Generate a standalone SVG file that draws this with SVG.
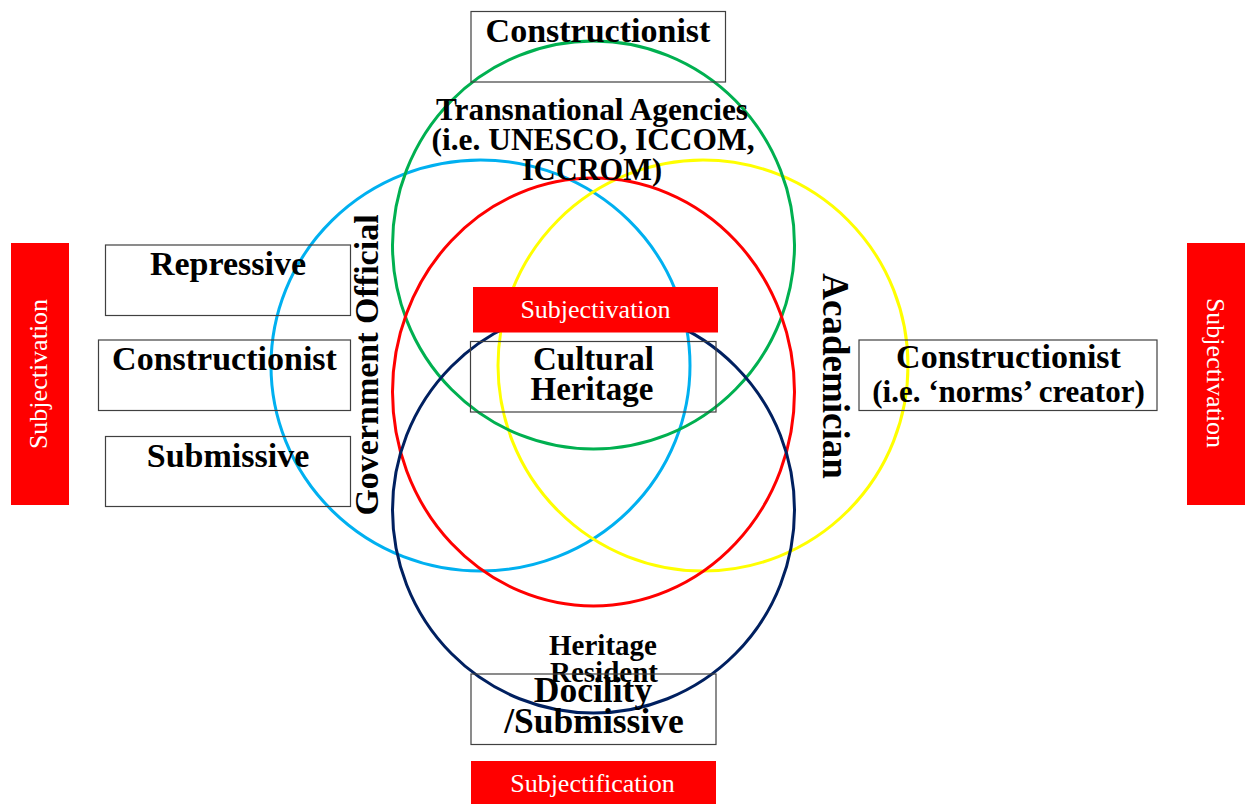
<svg xmlns="http://www.w3.org/2000/svg" width="1247" height="805" viewBox="0 0 1247 805">
  <style>
    .ring { fill: none; stroke-width: 3; }
    .box { fill: none; stroke: #404040; stroke-width: 1.2; }
    .bar { fill: #ff0000; }
    .lbl { font-family: "Liberation Serif", "DejaVu Serif", serif; font-weight: bold; fill: #000; text-anchor: middle; }
    .tag { font-family: "Liberation Serif", "DejaVu Serif", serif; font-weight: normal; fill: #fff; text-anchor: middle; font-size: 26px; }
  </style>
  <rect width="1247" height="805" fill="#fff"/>

  <!-- overlapping actor circles -->
  <g id="circle-government" class="ring" stroke="#00b0f0">
    <ellipse cx="480.5" cy="365.5" rx="209.5" ry="205.5"/>
  </g>
  <g id="circle-academician" class="ring" stroke="#ffff00">
    <ellipse cx="703" cy="365.5" rx="205" ry="205.5"/>
  </g>
  <g id="circle-transnational" class="ring" stroke="#00b050">
    <ellipse cx="593.5" cy="245" rx="201" ry="204"/>
  </g>
  <g id="circle-heritage-core" class="ring" stroke="#ff0000">
    <ellipse cx="593.5" cy="392" rx="201" ry="214"/>
  </g>
  <g id="circle-resident" class="ring" stroke="#002060">
    <ellipse cx="593.5" cy="510" rx="201" ry="203"/>
  </g>

  <!-- top box -->
  <g id="top-constructionist">
    <rect class="box" x="471" y="11.5" width="254.5" height="70.5"/>
    <text class="lbl" x="598" y="42" font-size="34">Constructionist</text>
  </g>

  <!-- transnational agencies label -->
  <g id="label-transnational">
    <text class="lbl" x="592" y="120" font-size="31" textLength="312" lengthAdjust="spacingAndGlyphs">Transnational Agencies</text>
    <text class="lbl" x="593" y="150" font-size="31" textLength="323" lengthAdjust="spacingAndGlyphs">(i.e. UNESCO, ICCOM,</text>
    <text class="lbl" x="592" y="180" font-size="31" textLength="140" lengthAdjust="spacingAndGlyphs">ICCROM)</text>
  </g>

  <!-- left column -->
  <g id="left-repressive">
    <rect class="box" x="105.5" y="245" width="245" height="70.5"/>
    <text class="lbl" x="228" y="275" font-size="34">Repressive</text>
  </g>
  <g id="left-constructionist">
    <rect class="box" x="98.5" y="340" width="252" height="70.5"/>
    <text class="lbl" x="224.5" y="370" font-size="34">Constructionist</text>
  </g>
  <g id="left-submissive">
    <rect class="box" x="105.5" y="436.5" width="245" height="70"/>
    <text class="lbl" x="228" y="467" font-size="34">Submissive</text>
  </g>

  <!-- side process bars -->
  <g id="bar-left">
    <rect class="bar" x="11" y="243" width="58" height="262"/>
    <text class="tag" transform="translate(47,374) rotate(-90)">Subjectivation</text>
  </g>
  <g id="bar-right">
    <rect class="bar" x="1187" y="243" width="58" height="262"/>
    <text class="tag" transform="translate(1207,373) rotate(90)">Subjectivation</text>
  </g>

  <!-- rotated actor labels -->
  <g id="label-government">
    <text class="lbl" font-size="34" transform="translate(378,365) rotate(-90)">Government Official</text>
  </g>
  <g id="label-academician">
    <text class="lbl" font-size="37" transform="translate(823,376) rotate(90)">Academician</text>
  </g>

  <!-- right box -->
  <g id="right-constructionist">
    <rect class="box" x="859" y="340" width="298" height="70.5"/>
    <text class="lbl" x="1008.5" y="368" font-size="34">Constructionist</text>
    <text class="lbl" x="1008.5" y="402" font-size="31">(i.e. ‘norms’ creator)</text>
  </g>

  <!-- centre -->
  <g id="center-subjectivation">
    <rect class="bar" x="473" y="287" width="245" height="45.5"/>
    <text class="tag" x="595.5" y="318">Subjectivation</text>
  </g>
  <g id="center-cultural-heritage">
    <rect class="box" x="470.5" y="341.5" width="245.5" height="70.5"/>
    <text class="lbl" x="593.5" y="370" font-size="33">Cultural</text>
    <text class="lbl" x="592" y="400" font-size="33">Heritage</text>
  </g>

  <!-- bottom -->
  <g id="label-heritage-resident">
    <text class="lbl" x="603" y="655" font-size="29">Heritage</text>
    <text class="lbl" x="604" y="682" font-size="29">Resident</text>
  </g>
  <g id="bottom-docility">
    <rect class="box" x="471" y="674" width="245" height="70.5"/>
    <text class="lbl" x="593" y="702" font-size="35.5">Docility</text>
    <text class="lbl" x="594" y="733" font-size="35.5">/Submissive</text>
  </g>
  <g id="bottom-subjectification">
    <rect class="bar" x="471" y="761" width="245" height="43"/>
    <text class="tag" x="592.5" y="792">Subjectification</text>
  </g>
</svg>
